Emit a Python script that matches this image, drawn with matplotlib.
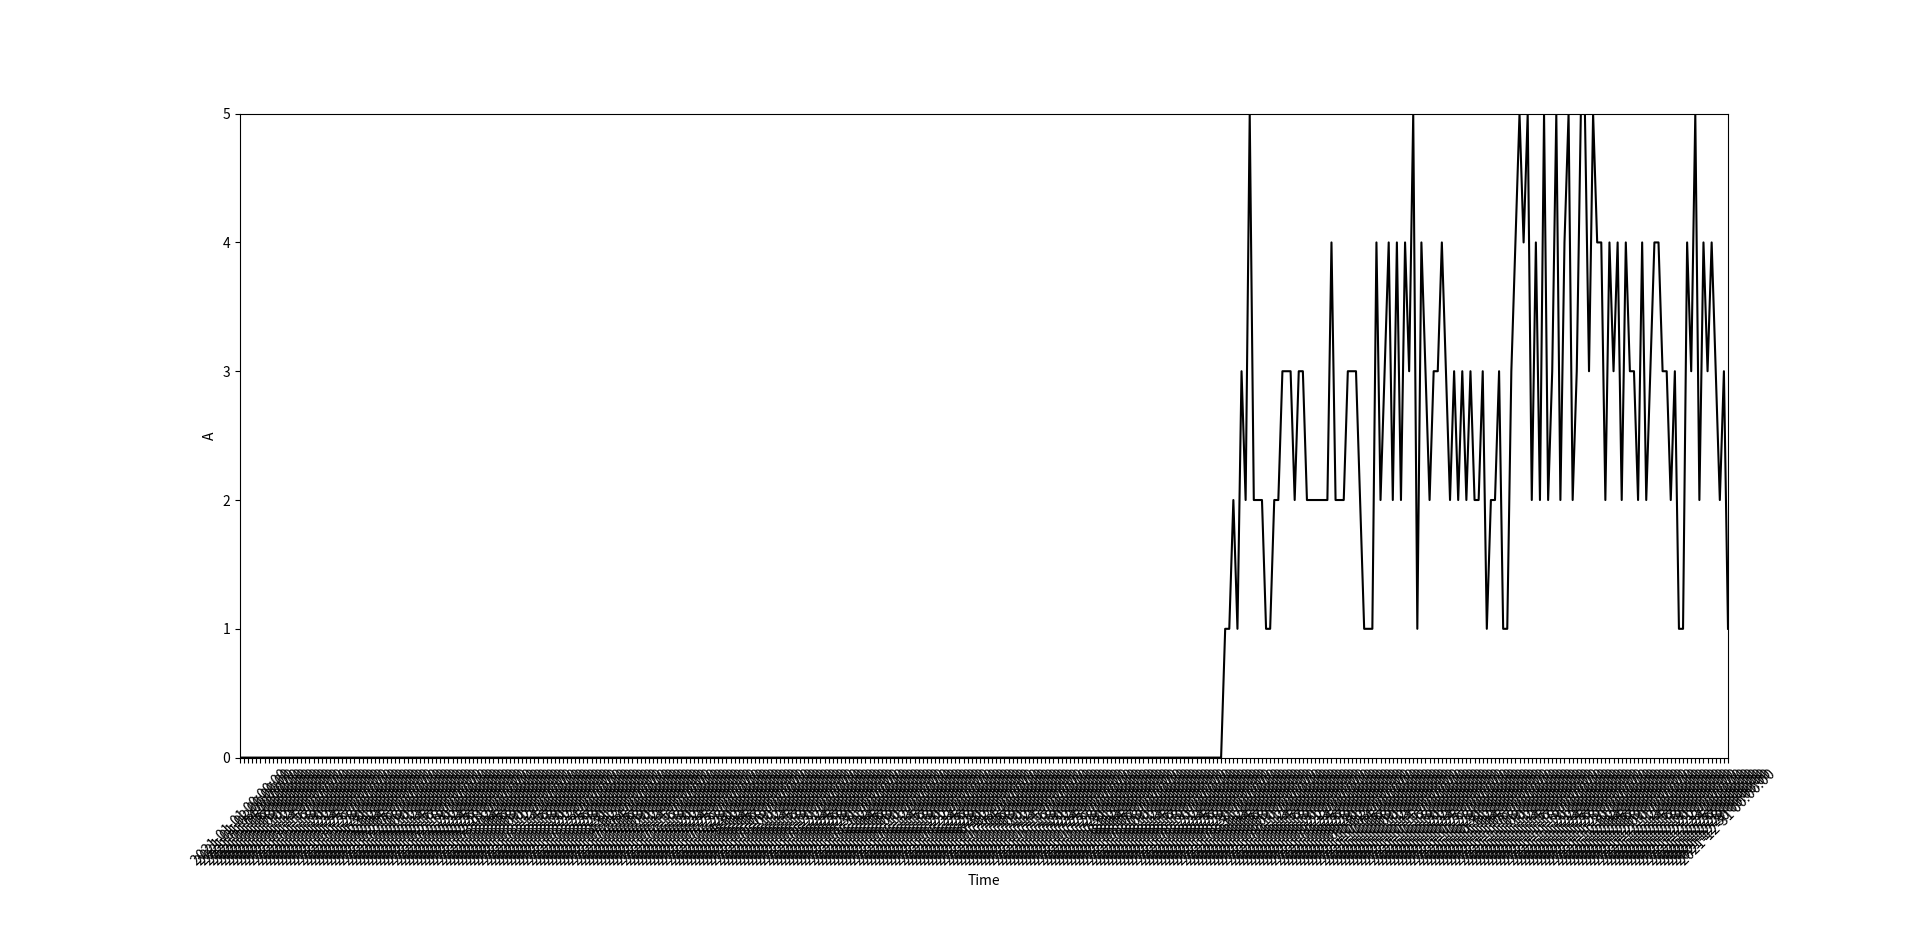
import numpy as np
import pandas as pd
import matplotlib
matplotlib.use('Agg')
import matplotlib.pyplot as plt

plt.rcParams['font.family'] = ['Noto Sans CJK SC', 'DejaVu Sans']
plt.rcParams['axes.unicode_minus'] = False

# x tick labels: one timestamp per sample (too dense to read in the original)
time_labels = pd.date_range('2021-01-01', periods=365, freq='D').strftime('%Y-%m-%d %H:%M:%S').tolist()

# quiet period, all zero
quiet_vals = [0] * 241

# active period
active_vals = [1, 1, 2, 1, 3, 2, 5, 2, 2, 2,
               1, 1, 2, 2, 3, 3, 3, 2, 3, 3,
               2, 2, 2, 2, 2, 2, 4, 2, 2, 2,
               3, 3, 3, 2, 1, 1, 1, 4, 2, 3,
               4, 2, 4, 2, 4, 3, 5, 1, 4, 3,
               2, 3, 3, 4, 3, 2, 3, 2, 3, 2,
               3, 2, 2, 3, 1, 2, 2, 3, 1, 1,
               3, 4, 5, 4, 5, 2, 4, 2, 5, 2,
               3, 5, 2, 4, 5, 2, 3, 5, 5, 3,
               5, 4, 4, 2, 4, 3, 4, 2, 4, 3,
               3, 2, 4, 2, 3, 4, 4, 3, 3, 2,
               3, 1, 1, 4, 3, 5, 2, 4, 3, 4,
               3, 2, 3, 1]

A = quiet_vals + active_vals
x = np.arange(len(A))

fig = plt.figure(figsize=(19.2, 9.47), dpi=100)
ax = fig.add_subplot(111)
ax.plot(x, A, color='black', linewidth=1.5)
ax.set_xlim(0, len(A) - 1)
ax.set_ylim(0, 5)
ax.set_xticks(x)
ax.set_xticklabels(time_labels, rotation=45, fontsize=10)
ax.set_yticks([0, 1, 2, 3, 4, 5])
ax.set_xlabel('Time', fontsize=10)
ax.set_ylabel('A', fontsize=10)
fig.subplots_adjust(left=0.125, right=0.9, top=0.88, bottom=0.2)

fig.savefig('out.png', dpi=100)
